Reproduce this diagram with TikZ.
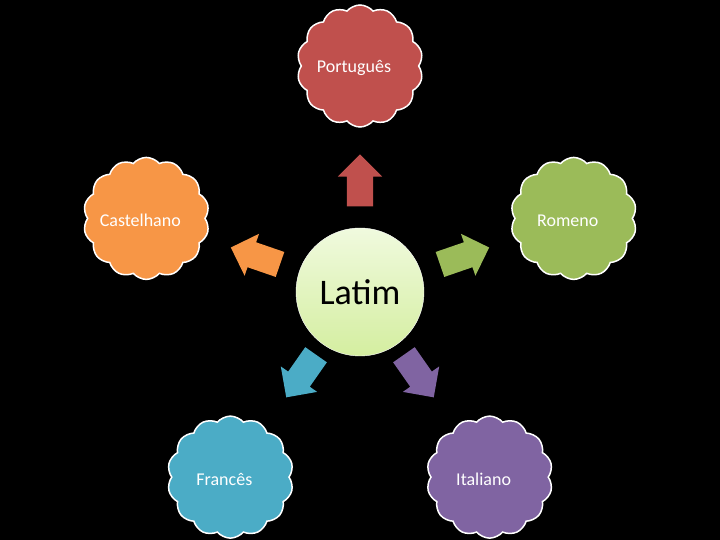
\documentclass[tikz,border=0pt]{standalone}
\usepackage{fontspec}
\setmainfont{Carlito}
\usetikzlibrary{shapes.symbols,shapes.arrows}
\definecolor{cvermelho}{HTML}{C0504D}
\definecolor{cverde}{HTML}{9BBB59}
\definecolor{croxo}{HTML}{8064A2}
\definecolor{cazul}{HTML}{4BACC6}
\definecolor{claranja}{HTML}{F79646}
\tikzset{
  lingua/.style={
    shape = cloud,
    cloud puffs = 14,
    cloud puff arc = 100,
    aspect = 1,
    draw = white,
    line width = 1.5pt,
    minimum width = 126pt,
    minimum height = 122pt,
    inner sep = 0pt
  },
  rotulo/.style={
    text = white,
    inner sep = 0pt,
    font = \fontsize{18}{20}\selectfont
  },
  seta/.style={
    shape = single arrow,
    single arrow head extend = 9pt,
    inner xsep = 0pt,
    inner ysep = 13pt,
    minimum height = 52pt,
    draw = none
  },
  raiz/.style={
    shape = circle,
    minimum size = 128pt,
    inner sep = 0pt,
    draw = white,
    thin,
    top color = {rgb,255:red,240;green,250;blue,222},
    bottom color = {rgb,255:red,212;green,238;blue,160},
    font = \fontsize{36}{40}\selectfont
  },
}
\begin{document}
\begin{tikzpicture}[x=1pt,y=1pt]
  \fill[black] (-360,-248) rectangle (360,292);
  \useasboundingbox (-360,-248) rectangle (360,292);
  \node[raiz] (latim) at (0,0) {Latim};
  \foreach \nome/\txt/\ang/\dist/\cor in {%
      pt/Português/90/105/cvermelho,
      ro/Romeno/19/104/cverde,
      it/Italiano/-55/96/croxo,
      fr/Francês/-125/96/cazul,
      ca/Castelhano/161/104/claranja}{
    \node[lingua, fill=\cor] (\nome) at (\ang:226) {};
    \node[rotulo] (t\nome) at ([shift={(-6,-2)}]\nome.center) {\txt};
    \node[seta, fill=\cor, rotate=\ang] (s\nome) at (\ang:\dist) {};
  }
\end{tikzpicture}
\end{document}
